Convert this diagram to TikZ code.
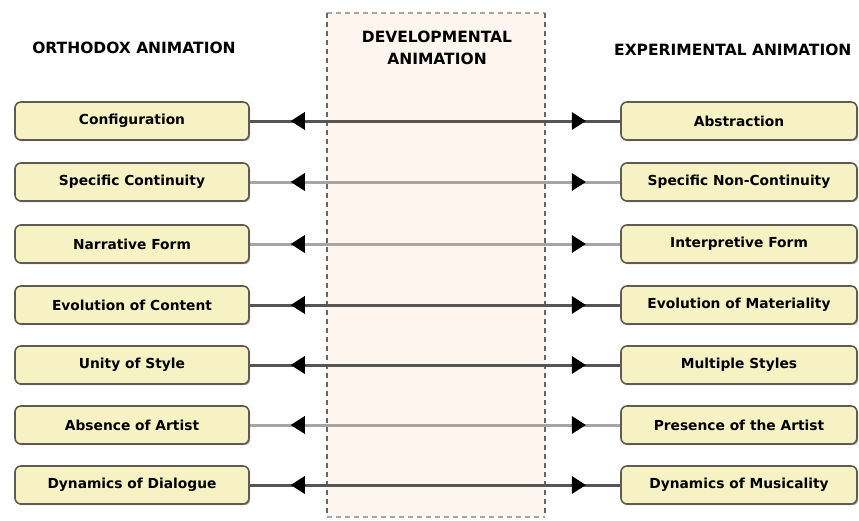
\documentclass[tikz,border=0pt]{standalone}
\usepackage{fontspec}
\setmainfont{DejaVu Sans}
\newfontfamily\heavyfont{DejaVu Sans Bold}
\usetikzlibrary{decorations.markings,shadows}
\pgfdeclarelayer{band}
\pgfdeclarelayer{links}
\pgfsetlayers{band,links,main}
\definecolor{boxfill}{HTML}{F6F2C4}
\definecolor{boxline}{HTML}{5E5B50}
\definecolor{bandfill}{HTML}{FDF5EE}
\definecolor{darkline}{HTML}{555555}
\definecolor{lightline}{HTML}{A5A5A5}
\tikzset{
  x=1pt, y=-1pt,
  itembox/.style={draw=boxline, line width=1.6pt, fill=boxfill, rounded corners=6pt,
    minimum width=234pt, minimum height=38pt, inner sep=0pt,
    drop shadow={shadow xshift=1.2pt, shadow yshift=-1.2pt, fill=black!45, opacity=0.8},
    font=\heavyfont\fontsize{13.8}{15}\selectfont, text=black},
  header/.style={font=\heavyfont\fontsize{15.5}{20}\selectfont, text=black, inner sep=0pt, align=center},
  % black triangular heads set into the line, near each box
  tips/.style={postaction={decorate}, decoration={markings,
    mark=at position 41pt with {\fill[black] (0,0) -- (14,9) -- (14,-9) -- cycle;},
    mark=at position 336pt with {\fill[black] (0,0) -- (-14,9) -- (-14,-9) -- cycle;}}},
  darkconn/.style={draw=darkline, line width=3pt, tips},
  lightconn/.style={draw=lightline, line width=3pt, tips},
  banddash/.style={line width=1.4pt, dash pattern=on 5pt off 4pt},
}
\begin{document}
\begin{tikzpicture}
\useasboundingbox (0,0) rectangle (859,520);

% central dashed band
\begin{pgfonlayer}{band}
\fill[white] (0,0) rectangle (859,520);
\fill[bandfill] (327,13) rectangle (545,517);
\draw[banddash, gray!70] (327,13) -- (545,13);
\draw[banddash, black!60] (327,13) -- (327,517);
\draw[banddash, black!60] (545,13) -- (545,517);
\draw[banddash, gray!70] (327,517) -- (545,517);
\end{pgfonlayer}

% column headings
\node[header] (hl) at (134,48) {ORTHODOX ANIMATION};
\node[header] (hm1) at (437,37) {DEVELOPMENTAL};
\node[header] (hm2) at (437,59) {ANIMATION};
\node[header, anchor=west] (hr) at (614,50) {EXPERIMENTAL ANIMATION};

% left column
\node[itembox] (L1) at (132,121) {Configuration};
\node[itembox] (L2) at (132,182) {Specific Continuity};
\node[itembox] (L3) at (132,244) {Narrative Form};
\node[itembox] (L4) at (132,305) {Evolution of Content};
\node[itembox] (L5) at (132,365) {Unity of Style};
\node[itembox] (L6) at (132,425) {Absence of Artist};
\node[itembox] (L7) at (132,485) {Dynamics of Dialogue};

% right column
\node[itembox, minimum width=236pt] (R1) at (739,121) {Abstraction};
\node[itembox, minimum width=236pt] (R2) at (739,182) {Specific Non-Continuity};
\node[itembox, minimum width=236pt] (R3) at (739,244) {Interpretive Form};
\node[itembox, minimum width=236pt] (R4) at (739,305) {Evolution of Materiality};
\node[itembox, minimum width=236pt] (R5) at (739,365) {Multiple Styles};
\node[itembox, minimum width=236pt] (R6) at (739,425) {Presence of the Artist};
\node[itembox, minimum width=236pt] (R7) at (739,485) {Dynamics of Musicality};

% connectors
\begin{pgfonlayer}{links}
\draw[darkconn] (L1.east) -- (R1.west);
\draw[lightconn] (L2.east) -- (R2.west);
\draw[lightconn] (L3.east) -- (R3.west);
\draw[darkconn] (L4.east) -- (R4.west);
\draw[darkconn] (L5.east) -- (R5.west);
\draw[lightconn] (L6.east) -- (R6.west);
\draw[darkconn] (L7.east) -- (R7.west);
\end{pgfonlayer}
\end{tikzpicture}
\end{document}
